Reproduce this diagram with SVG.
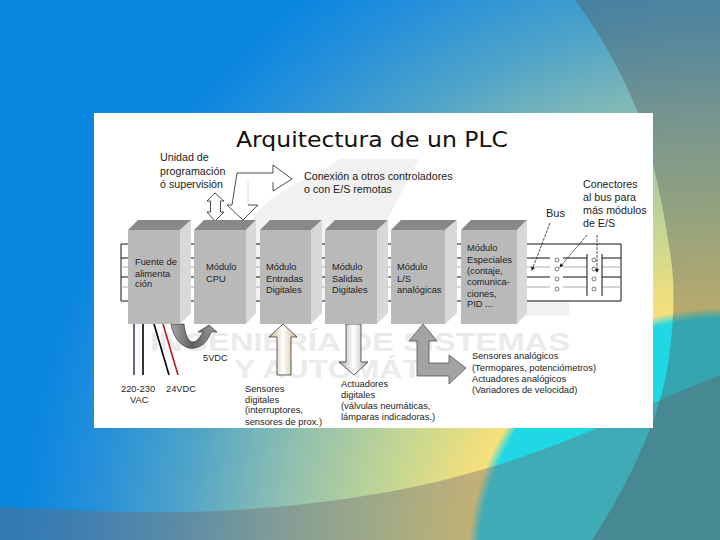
<svg xmlns="http://www.w3.org/2000/svg" width="720" height="540" viewBox="0 0 720 540">
<style>
text{font-family:"Liberation Sans",Arial,sans-serif;font-size:9.3px;fill:#222}
.big{font-size:10.7px}
.f{fill:#b9b9b9}.t{fill:#888}.s{fill:#d8d8d8}
.k{stroke:#111;stroke-width:1;fill:none}
.g{stroke:#aaa;stroke-width:1;fill:none}
.wm{fill:#f1f1f1}
.wt{font-size:25px;font-weight:bold;fill:#ebebeb}
.p{stroke:#222;stroke-width:.8;fill:none;stroke-dasharray:3 1}
</style>
<defs>
<radialGradient id="bg" gradientUnits="userSpaceOnUse" cx="720" cy="560" r="700">
<stop offset="0" stop-color="#1fd8e4"/><stop offset=".345" stop-color="#1fd8e4"/><stop offset=".36" stop-color="#f8e07a"/>
<stop offset=".47" stop-color="#c8d890"/><stop offset=".63" stop-color="#8fbfb0"/><stop offset=".77" stop-color="#4fa4c8"/><stop offset=".9" stop-color="#2590da"/><stop offset="1" stop-color="#0a86e0"/>
</radialGradient>
<linearGradient id="st"><stop offset="0" stop-color="#c9b58e"/><stop offset=".5" stop-color="#fff"/><stop offset="1" stop-color="#c9b58e"/></linearGradient>
<linearGradient id="sg"><stop offset="0" stop-color="#aaa"/><stop offset=".5" stop-color="#fff"/><stop offset="1" stop-color="#aaa"/></linearGradient>
<linearGradient id="cv"><stop offset="0" stop-color="#a8a8a8"/><stop offset=".45" stop-color="#606060"/><stop offset="1" stop-color="#9a9a9a"/></linearGradient>
<marker id="a" markerWidth="6" markerHeight="6" refX="4" refY="2.5" orient="auto"><path d="M0 0L5 2.5L0 5Z" fill="#111"/></marker>
</defs>
<g id="background">
<rect width="720" height="540" fill="url(#bg)"/>
<path d="M0 507C60 510 130 513 184 512C290 510 400 495 491 467C530 455 565 442 597 428C620 418 640 408 660 400C680 391 700 383 720 375V540H0Z" fill="#706a70" fill-opacity=".4"/>
<path d="M575 0C605 40 625 80 638 113C650 145 665 210 672 267C676 300 672 360 660 400C650 435 625 490 592 540H720V0Z" fill="#56585d" fill-opacity=".4"/>
</g>
<g id="panel">
<rect x="94" y="113" width="559" height="315" fill="#fff"/>
<path class="wm" d="M250 222C270 190 310 180 340 159H419L386 222V300H250Z"/>
<rect class="wm" x="500" y="300" width="69" height="16"/>
<text class="wt" x="150" y="351" textLength="420" lengthAdjust="spacingAndGlyphs">INGENIERÍA DE SISTEMAS</text>
<text class="wt" x="234" y="378" textLength="188" lengthAdjust="spacingAndGlyphs">Y AUTOMÁT</text>
<text x="236" y="147" style="font-family:'DejaVu Sans',sans-serif;font-size:21px;fill:#111" textLength="272" lengthAdjust="spacingAndGlyphs">Arquitectura de un PLC</text>
</g>
<g id="connectors">
<path class="k" d="M527 244H621V301H527M128 244H121V301H128M180 244H194M246 244H260M311 244H325M377 244H391M445 244H461M180 301H194M246 301H260M311 301H325M377 301H391M445 301H461"/>
<path class="k" d="M121 258H128M180 258H194M246 258H260M311 258H325M377 258H391M445 258H461M527 258H550M563 258H587M602 258H621"/>
<path class="g" d="M121 267H128M180 267H194M246 267H260M311 267H325M377 267H391M445 267H461M527 267H550M563 267H587M602 267H621"/>
<path class="k" d="M121 277H128M180 277H194M246 277H260M311 277H325M377 277H391M445 277H461M527 277H550M563 277H587M602 277H621"/>
<path class="g" d="M121 287H128M180 287H194M246 287H260M311 287H325M377 287H391M445 287H461M527 287H550M563 287H587M602 287H621"/>
<path class="k" d="M587 254V296M602 254V296"/>
<g fill="#fff" stroke="#444" stroke-width=".7">
<circle cx="557" cy="260" r="2"/><circle cx="557" cy="269" r="2"/><circle cx="557" cy="279" r="2"/><circle cx="557" cy="289" r="2"/>
<circle cx="594" cy="260" r="2"/><circle cx="594" cy="269" r="2"/><circle cx="594" cy="279" r="2"/><circle cx="594" cy="289" r="2"/>
</g>
<path class="p" d="M550 223L532 270" marker-end="url(#a)"/>
<path class="p" d="M587 235L560 267" marker-end="url(#a)"/>
<path class="p" d="M597 235V272" marker-end="url(#a)"/>
<path d="M134 324V375" stroke="#3b3a80" stroke-width="1.6"/>
<path d="M143 324V375" stroke="#000" stroke-width="1.6"/>
<path d="M154 324L169 375" stroke="#000" stroke-width="1.6"/>
<path d="M163 324L178 375" stroke="#c01818" stroke-width="1.6"/>
<path d="M171 324C174 342 186 350 195 348C204 346 208 340 211 332H217L209 325L198 332H203C200 338 196 342 193 342C188 342 185 334 184 324Z" fill="url(#cv)" stroke="#222" stroke-width=".6"/>
<path d="M215 193L224 201H220.5V212H224L215 221L207 212H210.5V201H207Z" fill="#fff" stroke="#222" stroke-width=".8"/>
<path d="M232 205L237 173H273V165L292 179L273 191V182H248V205Z" fill="#fff"/>
<path d="M248 182V205" stroke="#ccc" stroke-width=".8"/>
<path d="M232 205L237 173H273V165L292 179L273 191V182" stroke="#222" stroke-width=".8" fill="none"/>
<path d="M248 205H258L243 220L227 205H232" stroke="#222" stroke-width=".8" fill="#fff"/>
<path d="M283 324L297 337H291V375H277V337H269Z" fill="url(#st)" stroke="#222" stroke-width=".7"/>
<path d="M346 324V362H339L354 375L368 362H361V324Z" fill="url(#sg)" stroke="#222" stroke-width=".7"/>
<path d="M423 324L437 341H429V363H449V355L466 368L449 384V376H417V341H409Z" fill="#a3a3a3" stroke="#444" stroke-width=".7"/>
</g>
<g id="n1"><path class="f" d="M128 230H180V324H128Z"/><path class="t" d="M128 230L138 220H191L180 230Z"/><path class="s" d="M180 230L191 220V313L180 324Z"/>
<text x="135" y="265">Fuente de</text><text x="135" y="277">alimenta</text><text x="135" y="287">ción</text></g>
<g id="n2"><path class="f" d="M194 230H246V324H194Z"/><path class="t" d="M194 230L204 220H256L246 230Z"/><path class="s" d="M246 230L256 220V313L246 324Z"/>
<text x="206" y="270">Módulo</text><text x="206" y="282">CPU</text></g>
<g id="n3"><path class="f" d="M260 230H311V324H260Z"/><path class="t" d="M260 230L270 220H322L311 230Z"/><path class="s" d="M311 230L322 220V313L311 324Z"/>
<text x="266" y="270">Módulo</text><text x="266" y="282">Entradas</text><text x="266" y="293">Digitales</text></g>
<g id="n4"><path class="f" d="M325 230H377V324H325Z"/><path class="t" d="M325 230L335 220H388L377 230Z"/><path class="s" d="M377 230L388 220V313L377 324Z"/>
<text x="332" y="270">Módulo</text><text x="332" y="282">Salidas</text><text x="332" y="293">Digitales</text></g>
<g id="n5"><path class="f" d="M391 230H445V324H391Z"/><path class="t" d="M391 230L401 220H457L445 230Z"/><path class="s" d="M445 230L457 220V313L445 324Z"/>
<text x="397" y="270">Módulo</text><text x="397" y="282">L/S</text><text x="397" y="293">analógicas</text></g>
<g id="n6"><path class="f" d="M461 230H517V324H461Z"/><path class="t" d="M461 230L471 220H527L517 230Z"/><path class="s" d="M517 230L527 220V313L517 324Z"/>
<text x="467" y="251">Módulo</text><text x="467" y="263">Especiales</text><text x="467" y="274">(contaje,</text><text x="467" y="285">comunica-</text><text x="467" y="297">ciones,</text><text x="467" y="307">PID ...</text></g>
<g id="labels">
<text class="big" x="160" y="161">Unidad de</text><text class="big" x="160" y="175">programación</text><text class="big" x="160" y="188">ó supervisión</text>
<text class="big" x="304" y="180">Conexión a otros controladores</text><text class="big" x="304" y="193">o con E/S remotas</text>
<text x="546" y="217" style="font-size:11px">Bus</text>
<text class="big" x="583" y="188">Conectores</text><text class="big" x="583" y="201">al bus para</text><text class="big" x="583" y="214">más módulos</text><text class="big" x="583" y="227">de E/S</text>
<text x="203" y="361">5VDC</text>
<text x="121" y="392">220-230</text><text x="130" y="403">VAC</text><text x="166" y="392">24VDC</text>
<text x="245" y="392">Sensores</text><text x="245" y="403">digitales</text><text x="245" y="413">(interruptores,</text><text x="245" y="425">sensores de prox.)</text>
<text x="341" y="387">Actuadores</text><text x="341" y="398">digitales</text><text x="341" y="409">(válvulas neumáticas,</text><text x="341" y="420">lámparas indicadoras.)</text>
<text x="472" y="359">Sensores analógicos</text><text x="472" y="371">(Termopares, potenciómetros)</text><text x="472" y="382">Actuadores analógicos</text><text x="472" y="393">(Variadores de velocidad)</text>
</g>
</svg>
